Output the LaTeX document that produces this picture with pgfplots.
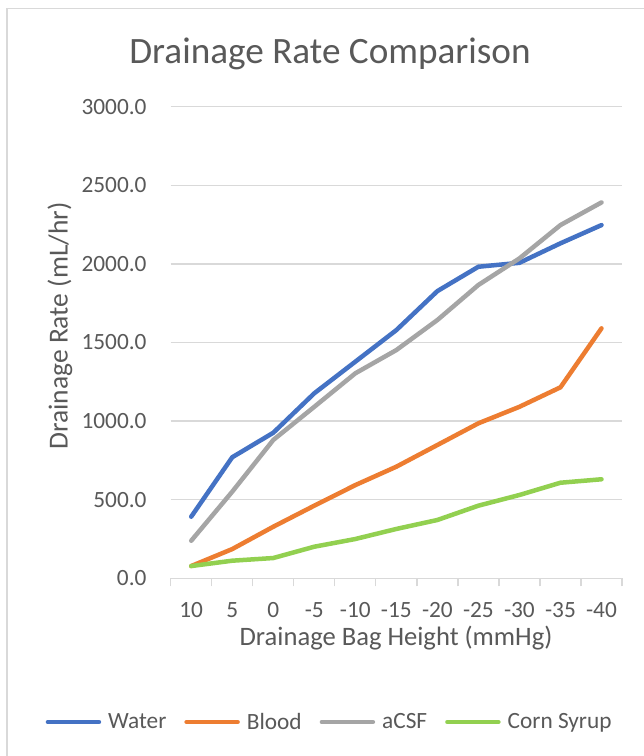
\documentclass[border=0pt]{standalone}
\usepackage{fontspec}
\setmainfont{Carlito}
\usepackage{pgfplots}
\pgfplotsset{compat=1.18}
\definecolor{txtgray}{HTML}{595959}
\definecolor{gridgray}{HTML}{D9D9D9}
\definecolor{cwater}{HTML}{4472C4}
\definecolor{cblood}{HTML}{ED7D31}
\definecolor{cacsf}{HTML}{A5A5A5}
\definecolor{ccorn}{HTML}{92D050}
\begin{document}
\begin{tikzpicture}[x=1pt,y=1pt]
\useasboundingbox (0,0) rectangle (644,-756);
\fill[white] (0,0) rectangle (644,-756);
\draw[gridgray, line width=1.3pt] (7,-756) -- (7,-8.5) -- (644,-8.5);
\begin{axis}[
  at={(170.7pt,-578.3pt)}, anchor=south west,
  scale only axis, width=451.3pt, height=471.6pt,
  xmin=-0.5, xmax=10.5, ymin=0, ymax=3000,
  xtick={0,...,10},
  xticklabels={10,5,0,-5,-10,-15,-20,-25,-30,-35,-40},
  minor xtick={-0.5,0.5,...,10.5},
  ytick={0,500,...,3000},
  major tick length=0pt, minor tick length=8pt, tick align=outside,
  minor tick style={draw=gridgray, line width=1.3pt},
  ytick style={draw=none},
  axis x line*=bottom, axis y line*=left,
  x axis line style={draw=gridgray, line width=1.3pt},
  y axis line style={draw=none},
  ymajorgrids, major grid style={draw=gridgray, line width=1.3pt},
  /pgf/number format/assume math mode=true,
  yticklabel={\pgfmathprintnumber[fixed, fixed zerofill, precision=1, 1000 sep={}]{\tick}},
  yticklabel style={anchor=east, inner sep=0pt, xshift=-24pt, text=txtgray, font=\fontsize{23.3}{28}\selectfont},
  xticklabel style={anchor=base, inner sep=0pt, yshift=-38.7pt, text=txtgray, font=\fontsize{23.3}{28}\selectfont},
  clip=false,
  legend columns=4,
  legend image code/.code={\draw[#1, line cap=round] (0pt,0pt) -- (51pt,0pt);},
  legend style={at={(0.350,-0.3047)}, anchor=center, draw=none, fill=none,
    nodes={inner sep=0pt, text=txtgray, font=\fontsize{23.3}{28}\selectfont},
    /tikz/every odd column/.style={column sep=7pt},
    /tikz/every even column/.style={column sep=18pt}},
  every axis plot/.append style={line width=4.5pt, line cap=round, line join=round},
]
\addplot[cwater] coordinates {(0,392) (1,770) (2,926) (3,1177) (4,1378) (5,1579) (6,1827) (7,1982) (8,2007) (9,2131) (10,2247)};
\addlegendentry{Water}
\addplot[cblood] coordinates {(0,78) (1,186) (2,328) (3,462) (4,593) (5,710) (6,848) (7,986) (8,1091) (9,1215) (10,1590)};
\addlegendentry{Blood}
\addplot[cacsf] coordinates {(0,239) (1,551) (2,880) (3,1091) (4,1304) (5,1452) (6,1643) (7,1866) (8,2035) (9,2247) (10,2391)};
\addlegendentry{aCSF}
\addplot[ccorn] coordinates {(0,78) (1,112) (2,129) (3,201) (4,250) (5,314) (6,371) (7,462) (8,530) (9,608) (10,630)};
\addlegendentry{Corn Syrup}
\end{axis}
\node[anchor=base, text=txtgray, font=\fontsize{37.2}{44}\selectfont, inner sep=0pt] at (330,-63) {Drainage Rate Comparison};
\node[anchor=base, text=txtgray, font=\fontsize{26.6}{31}\selectfont, inner sep=0pt] at (396,-645) {Drainage Bag Height (mmHg)};
\node[anchor=base, rotate=90, text=txtgray, font=\fontsize{27.5}{33}\selectfont, inner sep=0pt] at (67.5,-326) {Drainage Rate (mL/hr)};
\end{tikzpicture}
\end{document}
